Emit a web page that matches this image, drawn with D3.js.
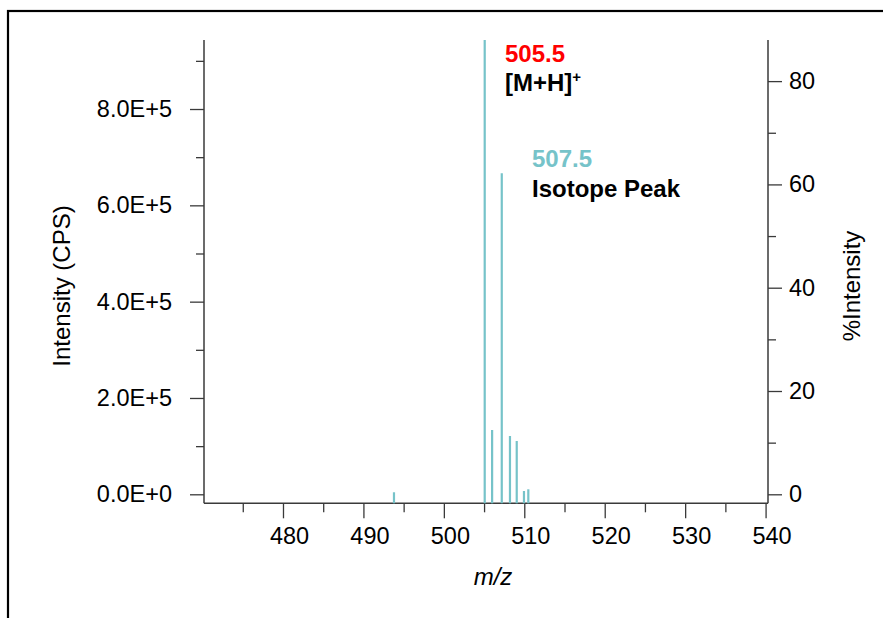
<!DOCTYPE html>
<html>
<head>
<meta charset="utf-8">
<script src="https://cdn.jsdelivr.net/npm/d3@7"></script>
<style>
  html, body { margin: 0; padding: 0; background: #fff; }
  svg { display: block; font-family: "Liberation Sans", Arial, sans-serif; }
</style>
</head>
<body>
<svg id="chart" width="883" height="618"></svg>
<script>
// ---- data ----
const peakMz = [493.8, 505.08, 506.0, 507.2, 508.22, 509.06, 509.96, 510.5];
const peakIntensity = [4200, 1072000, 133500, 666500, 121000, 110700, 6900, 10400];
const xMajorTicks = [480, 490, 500, 510, 520, 530, 540];
const xMinorTicks = [475, 485, 495, 505, 515, 525, 535];
const yMajorTicks = [0, 200000, 400000, 600000, 800000];
const yMinorTicks = [100000, 300000, 500000, 700000, 900000];
const pctMajorTicks = [0, 20, 40, 60, 80];
const pctMinorTicks = [10, 30, 50, 70];
const xDomain = [470.18, 540.3];
const yDomain = [0, 943300];
const pctDomain = [0, 87.96];
const labelMain = "505.5", labelMainIon = "[M+H]", labelIso = "507.5", labelIsoText = "Isotope Peak";

(function () {
// ---- layout ----
const svg = d3.select("#chart");
const pLeft = 204, pRight = 768, pTop = 40, zeroY = 494.3, baseY = 503.3;
const peakColor = "#76c3c9";
const axisColor = "#3a3a3a";
const tickFont = "23.5px", titleFont = "24px", noteFont = "24px";

const x = d3.scaleLinear().domain(xDomain).range([pLeft, pRight]);
const y = d3.scaleLinear().domain(yDomain).range([zeroY, pTop]);
const yp = d3.scaleLinear().domain(pctDomain).range([zeroY, pTop]);

// outer frame
svg.append("rect").attr("x", 8).attr("y", 11).attr("width", 1000).attr("height", 800)
  .attr("fill", "none").attr("stroke", "#000").attr("stroke-width", 2.2);

svg.append("defs").append("clipPath").attr("id", "plotclip")
  .append("rect").attr("x", pLeft).attr("y", pTop).attr("width", pRight - pLeft).attr("height", baseY - pTop + 20);

function styleAxis(g) {
  g.select(".domain").remove();
  g.selectAll(".tick line").attr("stroke", axisColor).attr("stroke-width", 1.3);
  g.selectAll(".tick text").attr("fill", "#000").style("font-size", tickFont)
    .style("font-family", '"Liberation Sans", Arial, sans-serif');
}

// left axis
const fmtE = v => v === 0 ? "0.0E+0" : (v / 1e5).toFixed(1) + "E+5";
svg.append("g").attr("transform", `translate(${pLeft},0)`)
  .call(d3.axisLeft(y).tickValues(yMajorTicks).tickSize(14).tickPadding(18).tickFormat(fmtE))
  .call(styleAxis);
svg.append("g").attr("transform", `translate(${pLeft},0)`)
  .call(d3.axisLeft(y).tickValues(yMinorTicks).tickSize(8).tickFormat(""))
  .call(styleAxis);

// right axis
svg.append("g").attr("transform", `translate(${pRight},0)`)
  .call(d3.axisRight(yp).tickValues(pctMajorTicks).tickSize(14).tickPadding(7).tickFormat(d3.format("d")))
  .call(styleAxis);
svg.append("g").attr("transform", `translate(${pRight},0)`)
  .call(d3.axisRight(yp).tickValues(pctMinorTicks).tickSize(8).tickFormat(""))
  .call(styleAxis);

// bottom axis
const gx = svg.append("g").attr("transform", `translate(0,${baseY})`)
  .call(d3.axisBottom(x).tickValues(xMajorTicks).tickSize(15).tickPadding(9).tickFormat(d3.format("d")))
  .call(styleAxis);
gx.selectAll(".tick text").attr("dx", 6);
svg.append("g").attr("transform", `translate(0,${baseY})`)
  .call(d3.axisBottom(x).tickValues(xMinorTicks).tickSize(9).tickFormat(""))
  .call(styleAxis);

// axis lines
svg.append("line").attr("x1", pLeft).attr("x2", pLeft).attr("y1", pTop).attr("y2", baseY)
  .attr("stroke", axisColor).attr("stroke-width", 1.5);
svg.append("line").attr("x1", pRight).attr("x2", pRight).attr("y1", pTop).attr("y2", baseY)
  .attr("stroke", axisColor).attr("stroke-width", 1.5);
svg.append("line").attr("x1", pLeft).attr("x2", pRight).attr("y1", baseY).attr("y2", baseY)
  .attr("stroke", axisColor).attr("stroke-width", 1.5);

// peaks
svg.append("g").attr("clip-path", "url(#plotclip)")
  .selectAll("line").data(peakMz.map((m, i) => ({ m, v: peakIntensity[i] })))
  .join("line")
  .attr("x1", d => x(d.m)).attr("x2", d => x(d.m))
  .attr("y1", baseY).attr("y2", d => y(d.v))
  .attr("stroke", peakColor).attr("stroke-width", 2.2);

// axis titles
svg.append("text").attr("transform", `translate(70,286) rotate(-90)`)
  .attr("text-anchor", "middle").style("font-size", titleFont).text("Intensity (CPS)");
svg.append("text").attr("transform", `translate(860,286) rotate(-90)`)
  .attr("text-anchor", "middle").style("font-size", titleFont).text("%Intensity");
svg.append("text").attr("x", 493).attr("y", 585).attr("text-anchor", "middle")
  .style("font-size", titleFont).style("font-style", "italic").text("m/z");

// annotations
svg.append("text").attr("x", 505).attr("y", 62).attr("fill", "#ff0000")
  .style("font-size", noteFont).style("font-weight", "bold").text(labelMain);
const ion = svg.append("text").attr("x", 505).attr("y", 91)
  .style("font-size", noteFont).style("font-weight", "bold").text(labelMainIon);
ion.append("tspan").attr("dy", -9).style("font-size", "15px").text("+");
svg.append("text").attr("x", 532).attr("y", 167).attr("fill", peakColor)
  .style("font-size", noteFont).style("font-weight", "bold").text(labelIso);
svg.append("text").attr("x", 532).attr("y", 197)
  .style("font-size", noteFont).style("font-weight", "bold").text(labelIsoText);
})();
</script>
</body>
</html>
